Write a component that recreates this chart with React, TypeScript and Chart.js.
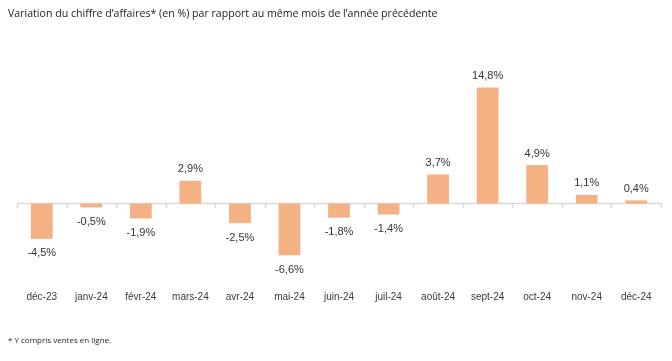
import React, { useEffect, useRef } from 'react';
import { Chart, registerables } from 'chart.js';

Chart.register(...registerables);

const categories = ['déc-23', 'janv-24', 'févr-24', 'mars-24', 'avr-24', 'mai-24', 'juin-24', 'juil-24', 'août-24', 'sept-24', 'oct-24', 'nov-24', 'déc-24'];
const values = [-4.5, -0.5, -1.9, 2.9, -2.5, -6.6, -1.8, -1.4, 3.7, 14.8, 4.9, 1.1, 0.4];
const yMin = -10;
const yMax = 16;
const titleText = 'Variation du chiffre d’affaires* (en %) par rapport au même mois de l’année précédente';
const footnoteText = '* Y compris ventes en ligne.';

const barColor = '#F4B183';
const textColor = '#3A3A3A';
const labelColor = '#333333';

const fmt = (v: number) => v.toFixed(1).replace('.', ',') + '%';

const zeroLinePlugin = {
  id: 'zeroLine',
  beforeDatasetsDraw(chart: any) {
    const { ctx, chartArea, scales } = chart;
    const y0 = scales.y.getPixelForValue(0);
    const n = categories.length;
    const step = (chartArea.right - chartArea.left) / n;
    ctx.save();
    ctx.strokeStyle = '#D9D9D9';
    ctx.lineWidth = 1.5;
    ctx.beginPath();
    ctx.moveTo(chartArea.left, y0);
    ctx.lineTo(chartArea.right, y0);
    for (let i = 0; i <= n; i++) {
      const x = Math.round(chartArea.left + i * step) + 0.5;
      ctx.moveTo(x, y0);
      ctx.lineTo(x, y0 + 4.5);
    }
    ctx.stroke();
    ctx.restore();
  },
};

const labelPlugin = {
  id: 'barLabels',
  afterDatasetsDraw(chart: any) {
    const { ctx } = chart;
    const meta = chart.getDatasetMeta(0);
    ctx.save();
    ctx.font = '11px "Liberation Sans", Arial, sans-serif';
    ctx.fillStyle = labelColor;
    ctx.textAlign = 'center';
    ctx.textBaseline = 'middle';
    meta.data.forEach((el: any, i: number) => {
      const v = values[i];
      const y = v >= 0 ? el.y - 11.5 : el.y + 14.5;
      ctx.fillText(fmt(v), el.x, y);
    });
    ctx.restore();
  },
};

export default function App() {
  const ref = useRef<HTMLCanvasElement | null>(null);

  useEffect(() => {
    if (!ref.current) return;
    const chart = new Chart(ref.current, {
      type: 'bar',
      data: {
        labels: categories,
        datasets: [
          {
            data: values,
            backgroundColor: barColor,
            borderWidth: 0,
            categoryPercentage: 1,
            barPercentage: 0.44,
          },
        ],
      },
      options: {
        animation: false,
        responsive: false,
        devicePixelRatio: 1,
        layout: { padding: { left: 17, right: 11, top: 78, bottom: 54 } },
        plugins: {
          legend: { display: false },
          title: { display: false },
          tooltip: { enabled: false },
        },
        scales: {
          x: {
            grid: { display: false, drawTicks: false },
            border: { display: false },
            afterFit: (scale: any) => {
              scale.height = 25;
            },
            ticks: {
              padding: 9,
              color: textColor,
              font: { family: '"Liberation Sans", Arial, sans-serif', size: 10 },
              maxRotation: 0,
              autoSkip: false,
            },
          },
          y: {
            display: false,
            min: yMin,
            max: yMax,
          },
        },
      },
      plugins: [zeroLinePlugin, labelPlugin],
    });
    return () => chart.destroy();
  }, []);

  return (
    <div style={{ position: 'fixed', left: 0, top: 0, width: 672, height: 361, background: '#fff' }}>
      <canvas ref={ref} width={672} height={361} style={{ position: 'absolute', left: 0, top: 0 }} />
      <div
        style={{
          position: 'absolute',
          left: 8,
          top: 5,
          fontFamily: '"Open Sans", sans-serif',
          fontSize: 10.6,
          lineHeight: '16px',
          color: '#222',
          whiteSpace: 'nowrap',
        }}
      >
        {titleText}
      </div>
      <div
        style={{
          position: 'absolute',
          left: 8,
          top: 334,
          fontFamily: '"Open Sans", sans-serif',
          fontSize: 8,
          lineHeight: '12px',
          color: '#222',
          whiteSpace: 'nowrap',
        }}
      >
        {footnoteText}
      </div>
    </div>
  );
}
